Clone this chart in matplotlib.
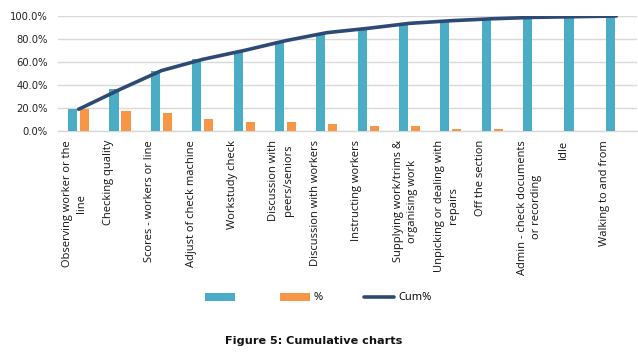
import matplotlib
matplotlib.use("Agg")
import matplotlib.pyplot as plt
import matplotlib.transforms as mtransforms
import numpy as np
from matplotlib.ticker import FuncFormatter

categories = [
    "Observing worker or the\nline",
    "Checking quality",
    "Scores - workers or line",
    "Adjust of check machine",
    "Workstudy check",
    "Discussion with\npeers/seniors",
    "Discussion with workers",
    "Instructing workers",
    "Supplying work/trims &\norganising work",
    "Unpicking or dealing with\nrepairs",
    "Off the section",
    "Admin - check documents\nor recording",
    "Idle",
    "Walking to and from",
]
cum_bar = [18.9, 36.2, 52.5, 62.3, 70.0, 78.5, 85.5, 89.3, 93.6, 95.9, 97.6, 98.8, 99.4, 100.0]
pct = [18.9, 17.6, 16.0, 10.4, 8.1, 8.1, 6.1, 4.3, 4.3, 1.7, 1.7, 0.4, 0.3, 0.3]
cum_line = [18.9, 36.2, 52.5, 62.3, 70.0, 78.5, 85.5, 89.3, 93.6, 95.9, 97.6, 98.8, 99.4, 100.0]
yticks = [0, 20, 40, 60, 80, 100]

BLUE = "#4BACC6"
ORANGE = "#F79646"
NAVY = "#2C4A74"
GRID = "#D9D9D9"

W, H = 638, 352
fig = plt.figure(figsize=(W / 100, H / 100), dpi=100)
ax = fig.add_axes([58 / W, 1 - 131 / H, 579 / W, 115 / H])

x = np.arange(len(categories))
bw = 0.22
off = 0.145
b1 = ax.bar(x - off, cum_bar, width=bw, color=BLUE, edgecolor="none", zorder=2)
b2 = ax.bar(x + off, pct, width=bw, color=ORANGE, edgecolor="none", zorder=2)
ln, = ax.plot(x, cum_line, color=NAVY, lw=2.6, solid_capstyle="round", zorder=3)

ax.set_xlim(-0.5, len(categories) - 0.5)
ax.set_ylim(0, 100)
ax.set_yticks(yticks)
ax.yaxis.set_major_formatter(FuncFormatter(lambda v, p: f"{v:.1f}%"))
ax.tick_params(axis="y", length=0, pad=7.5, labelsize=7.2, labelcolor="#222222")
ax.set_xticks([])
ax.grid(axis="y", color=GRID, lw=1.0, zorder=0)
for s in ["left", "right", "top"]:
    ax.spines[s].set_visible(False)
ax.spines["bottom"].set_color(GRID)
ax.spines["bottom"].set_linewidth(1.0)
ax.spines["bottom"].set_zorder(1)

base = mtransforms.blended_transform_factory(ax.transData, ax.transAxes)
for i, lab in enumerate(categories):
    tr = base + mtransforms.ScaledTranslation(-17 / 100, -9 / 100, fig.dpi_scale_trans)
    ax.text(i, 0, lab, transform=tr, rotation=90, rotation_mode="anchor",
            ha="right", va="top", multialignment="center",
            fontsize=8, family="Open Sans", color="#111111",
            linespacing=1.45, clip_on=False)

leg = fig.legend([b1, b2, ln], ["", "%", "Cum%"], loc="center",
                 bbox_to_anchor=(318 / W, 1 - 298 / H), ncol=3, frameon=False,
                 handlelength=2.7, handleheight=0.7,
                 handletextpad=0.35, columnspacing=3.7,
                 prop={"family": "Open Sans", "size": 8})

fig.text(314 / W, 1 - 341 / H, "Figure 5: Cumulative charts", ha="center", va="center",
         fontsize=8.1, fontweight="bold", family="DejaVu Sans", color="#111111")

fig.savefig("out.png", dpi=100)
